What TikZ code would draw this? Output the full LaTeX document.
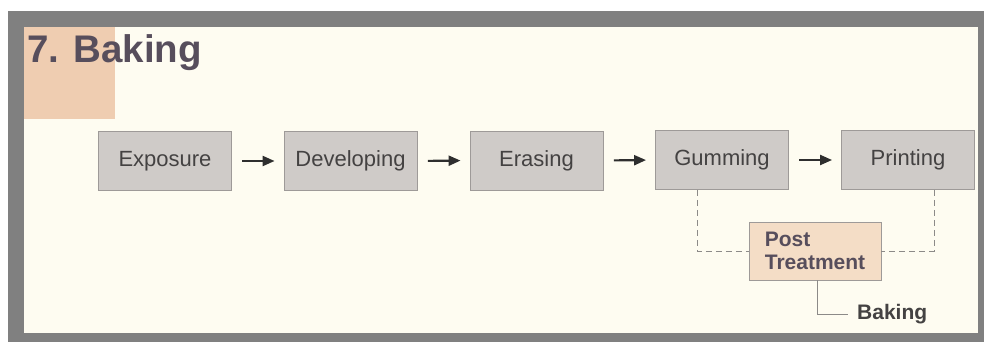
\documentclass[tikz,border=0pt]{standalone}
\usepackage{fontspec}
\setmainfont{Liberation Sans}
\usetikzlibrary{arrows.meta}
\definecolor{framegray}{HTML}{808080}
\definecolor{cream}{HTML}{FEFCF1}
\definecolor{peach}{HTML}{EFCDB1}
\definecolor{postfill}{HTML}{F4DDC6}
\definecolor{boxfill}{HTML}{CFCBC8}
\definecolor{boxline}{HTML}{9E9A98}
\definecolor{txtgray}{HTML}{444242}
\definecolor{titlecol}{HTML}{574E5C}
\definecolor{linegray}{HTML}{8C8A88}
\tikzset{
  stepbox/.style={draw=boxline, line width=0.9pt, fill=boxfill, minimum width=133pt, minimum height=59pt, inner sep=0pt, text=txtgray, font=\fontsize{22}{24}\selectfont},
  postbox/.style={draw=boxline, line width=0.9pt, fill=postfill, minimum width=132pt, minimum height=58pt, inner sep=0pt, align=left, text=titlecol, font=\bfseries\fontsize{21}{23}\selectfont},
  flowarrow/.style={draw=black!82, line width=2.2pt, -{Triangle[length=12pt,width=10pt]}, shorten <=10.5pt, shorten >=9pt},
  dashline/.style={draw=linegray, line width=0.9pt, dash pattern=on 6pt off 4pt},
  solidline/.style={draw=linegray, line width=0.9pt}
}
\begin{document}
\begin{tikzpicture}[x=1pt,y=-1pt]
\useasboundingbox (0,0) rectangle (984,342);
\fill[white] (0,0) rectangle (984,342);
\fill[framegray] (8,11) rectangle (984,342);
\fill[cream] (24,27) rectangle (978,333);
\fill[peach] (24,27) rectangle (115,119);
\node[anchor=base west, inner sep=0pt, text=titlecol, font=\bfseries\fontsize{38.5}{40}\selectfont] (title) at (27,63) {7. Baking};

\node[stepbox] (exp) at (165,161) {Exposure};
\node[stepbox] (dev) at (350.5,161) {Developing};
\node[stepbox] (era) at (536.5,160.5) {Erasing};
\node[stepbox] (gum) at (722,160) {Gumming};
\node[stepbox] (prt) at (908,160) {Printing};

\draw[flowarrow] (exp.east) -- (dev.west);
\draw[flowarrow] (dev.east) -- (era.west);
\draw[flowarrow] (era.east) -- (gum.west);
\draw[flowarrow] (gum.east) -- (prt.west);

\node[postbox] (post) at (815,251) {Post\\Treatment};

\draw[dashline] ([xshift=-25pt]gum.south) |- (post.west);
\draw[dashline] ([xshift=26pt]prt.south) |- (post.east);

\node[anchor=west, inner sep=0pt, text=txtgray, font=\bfseries\fontsize{21}{23}\selectfont] (bak) at (857,314) {Baking};
\draw[solidline] ([xshift=2pt]post.south) |- ([xshift=-9pt]bak.west);
\end{tikzpicture}
\end{document}
